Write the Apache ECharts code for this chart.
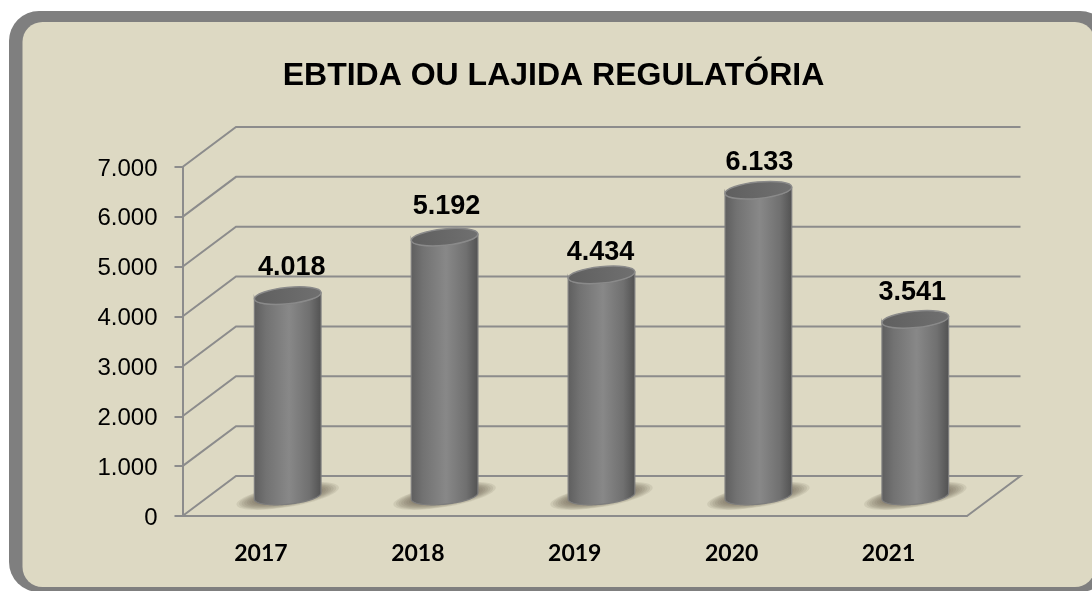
<!DOCTYPE html>
<html>
<head>
<meta charset="utf-8">
<title>EBTIDA OU LAJIDA REGULATÓRIA</title>
<script src="https://cdn.jsdelivr.net/npm/echarts@6/dist/echarts.min.js"></script>
<style>
  html, body { margin: 0; padding: 0; background: #fff; }
  #chart { width: 1092px; height: 591px; }
</style>
</head>
<body>
<div id="chart"></div>
<script>
const years = ['2017', '2018', '2019', '2020', '2021']
const values = [4018, 5192, 4434, 6133, 3541]
const valueLabels = ['4.018', '5.192', '4.434', '6.133', '3.541']
const yTicks = [0, 1000, 2000, 3000, 4000, 5000, 6000, 7000]

// fake 3d: how far the back wall sits from the front axes, in px
const DEPTH_X = 53.5
const DEPTH_Y = -40
const TILT = 0.1
const SHADOW_TILT = 0.17
const labelNudgeX = [4, 2, -1, 1, -3]
const labelNudgeY = [2, -1, 8, 2, 3]

const ellipsePoints = (cx, cy, rx, ry, from, to) => {
  const pts = []
  for (let i = 0; i <= 48; i++) {
    const a = from + (to - from) * i / 48
    const x = rx * Math.cos(a)
    const y = ry * Math.sin(a)
    pts.push([
      cx + x * Math.cos(TILT) + y * Math.sin(TILT),
      cy - x * Math.sin(TILT) + y * Math.cos(TILT)
    ])
  }
  return pts
}

const renderWall = (params, api) => {
  const v = api.value(0)
  const y = api.coord([0, v])[1]
  const sys = params.coordSys
  const front = [sys.x, y]
  const frontEnd = [sys.x + sys.width, y]
  const back = [front[0] + DEPTH_X, y + DEPTH_Y]
  const backEnd = [frontEnd[0] + DEPTH_X, frontEnd[1] + DEPTH_Y]
  const points = v === 0 ? [front, back, backEnd, frontEnd] : [front, back, backEnd]
  return {
    type: 'polyline',
    shape: { points },
    style: { fill: null, stroke: '#8c8c8c', lineWidth: 2 },
    silent: true
  }
}

// soft floor shadow, stacked translucent ellipses
const shadowLayers = (cx, cy, rx) => {
  const layers = []
  for (let i = 0; i < 8; i++) {
    const k = i / 7
    layers.push({
      type: 'ellipse',
      shape: { cx, cy, rx: rx * (1.55 - 0.55 * k), ry: 11 - 5 * k },
      rotation: SHADOW_TILT,
      originX: cx,
      originY: cy,
      style: { fill: 'rgba(88, 84, 60, 0.11)' }
    })
  }
  return layers
}

const renderCylinder = (params, api) => {
  const idx = api.value(0)
  const val = api.value(1)
  const base = api.coord([idx, 0])
  const top = api.coord([idx, val])
  const cx = base[0] + DEPTH_X / 2
  const by = base[1] + DEPTH_Y / 2
  const ty = top[1] + DEPTH_Y / 2
  const rx = api.size([1, 0])[0] * 0.2135
  const ry = 8.2

  const bodyPoints = ellipsePoints(cx, by, rx, ry, Math.PI, 0)
    .concat(ellipsePoints(cx, ty, rx, ry, 0, Math.PI))

  return {
    type: 'group',
    silent: true,
    children: shadowLayers(cx, by, rx).concat([
      {
        type: 'polygon',
        shape: { points: bodyPoints },
        style: {
          fill: new echarts.graphic.LinearGradient(0, 0, 1, 0, [
            { offset: 0, color: '#5e5e5e' },
            { offset: 0.18, color: '#727272' },
            { offset: 0.52, color: '#888888' },
            { offset: 0.82, color: '#707070' },
            { offset: 1, color: '#515151' }
          ]),
          stroke: '#7d7d7d',
          lineWidth: 1.2
        }
      },
      {
        type: 'ellipse',
        shape: { cx, cy: ty, rx, ry },
        rotation: TILT,
        originX: cx,
        originY: ty,
        style: {
          fill: new echarts.graphic.LinearGradient(0, 0, 1, 0, [
            { offset: 0, color: '#5f5f5f' },
            { offset: 1, color: '#707070' }
          ]),
          stroke: '#8a8a8a',
          lineWidth: 1.5
        }
      },
      {
        type: 'text',
        style: {
          text: valueLabels[idx],
          x: cx + labelNudgeX[idx],
          y: ty - 30 + labelNudgeY[idx],
          align: 'center',
          verticalAlign: 'middle',
          font: 'bold 27px "Liberation Sans"',
          fill: '#000'
        }
      }
    ])
  }
}

const chart = echarts.init(document.getElementById('chart'), null, { renderer: 'canvas' })

chart.setOption({
  animation: false,
  backgroundColor: '#fff',
  graphic: [
    {
      type: 'rect',
      z: -10,
      shape: { x: 9, y: 11, width: 1101, height: 581, r: 30 },
      style: { fill: '#7f7f7f' }
    },
    {
      type: 'rect',
      z: -9,
      shape: { x: 22.5, y: 22, width: 1072.5, height: 565, r: 20 },
      style: { fill: '#ddd9c3' }
    }
  ],
  title: {
    text: 'EBTIDA OU LAJIDA REGULATÓRIA',
    left: 548.5,
    top: 71,
    textAlign: 'center',
    textVerticalAlign: 'middle',
    textStyle: {
      color: '#000',
      fontFamily: 'Liberation Sans',
      fontWeight: 'bold',
      fontSize: 32
    }
  },
  grid: { left: 182.5, right: 125, top: 167, bottom: 75 },
  xAxis: {
    type: 'category',
    data: years,
    axisLine: { lineStyle: { color: '#8c8c8c', width: 2 } },
    axisTick: { length: 8, alignWithLabel: false, lineStyle: { color: '#8c8c8c', width: 2 } },
    axisLabel: {
      color: '#000',
      fontFamily: 'Lato',
      fontWeight: 'bold',
      fontSize: 23,
      margin: 26
    }
  },
  yAxis: {
    type: 'value',
    min: 0,
    max: 7000,
    interval: 1000,
    axisLine: { show: true, lineStyle: { color: '#8c8c8c', width: 2 } },
    axisTick: { show: true, length: 8, lineStyle: { color: '#8c8c8c', width: 2 } },
    splitLine: { show: false },
    axisLabel: {
      color: '#000',
      fontFamily: 'Liberation Sans',
      fontSize: 24,
      margin: 25,
      verticalAlign: 'top',
      lineHeight: 4,
      formatter: (v, i) => yTicks[i] === 0 ? '0' : (yTicks[i] / 1000).toFixed(3)
    }
  },
  series: [
    {
      type: 'custom',
      name: 'walls',
      data: yTicks.map(v => [v]),
      encode: { y: 0 },
      renderItem: renderWall,
      z: 1,
      clip: false
    },
    {
      type: 'custom',
      name: 'EBITDA',
      data: values.map((v, i) => [i, v]),
      encode: { x: 0, y: 1 },
      renderItem: renderCylinder,
      z: 3,
      clip: false
    }
  ]
})

window.addEventListener('resize', () => chart.resize())
</script>
</body>
</html>
